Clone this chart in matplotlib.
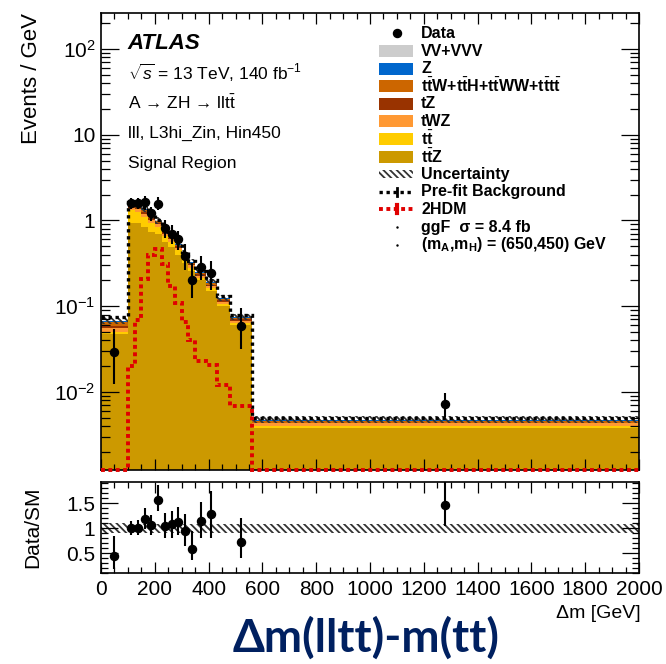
import numpy as np
import matplotlib
matplotlib.use("Agg")
import matplotlib.pyplot as plt
from matplotlib.patches import Rectangle
from matplotlib.lines import Line2D
from matplotlib.ticker import (MultipleLocator, FixedLocator, FuncFormatter,
                               LogLocator, NullFormatter)

plt.rcParams["font.family"] = ["Liberation Sans", "DejaVu Sans"]
plt.rcParams["mathtext.fontset"] = "custom"
plt.rcParams["mathtext.rm"] = "Liberation Sans"
plt.rcParams["mathtext.it"] = "Liberation Sans:italic"
plt.rcParams["mathtext.bf"] = "Liberation Sans:bold"
plt.rcParams["hatch.linewidth"] = 1.3

# binning in GeV
edges = [0, 100, 125, 150, 175, 200, 225, 250, 275, 300, 325, 350, 390, 430, 480, 560, 2000]

# background components (Events / GeV), stacked bottom -> top
ttz  = [0.048, 0.93, 0.93, 0.84, 0.74, 0.70, 0.56, 0.49, 0.40, 0.32, 0.26, 0.20, 0.152, 0.100, 0.060, 0.0038]
tt   = [0.002, 0.38, 0.33, 0.27, 0.19, 0.15, 0.09, 0.07, 0.05, 0.035, 0.02, 0.015, 0.010, 0.006, 0.004, 0.0002]
twz  = [0.005, 0.09, 0.09, 0.08, 0.08, 0.06, 0.05, 0.04, 0.03, 0.025, 0.02, 0.013, 0.010, 0.007, 0.004, 0.0003]
tz   = [0.004, 0.06, 0.06, 0.06, 0.05, 0.03, 0.025, 0.02, 0.018, 0.014, 0.01, 0.008, 0.006, 0.004, 0.002, 0.0001]
ttw  = [0.006, 0.08, 0.08, 0.08, 0.06, 0.04, 0.03, 0.025, 0.022, 0.017, 0.013, 0.01, 0.008, 0.005, 0.003, 0.0002]
zjet = [0.002, 0.04, 0.04, 0.03, 0.015, 0.015, 0.012, 0.01, 0.008, 0.006, 0.005, 0.003, 0.003, 0.002, 0.001, 0.0001]
vv   = [0.001, 0.02, 0.02, 0.02, 0.01, 0.005, 0.005, 0.005, 0.004, 0.003, 0.002, 0.001, 0.001, 0.001, 0.001, 0.00005]
unc_rel = [0.10, 0.09, 0.09, 0.09, 0.09, 0.09, 0.09, 0.09, 0.09, 0.09, 0.09, 0.09, 0.09, 0.09, 0.09, 0.09]

prefit = [0.074, 1.66, 1.60, 1.42, 1.18, 1.02, 0.80, 0.68, 0.55, 0.43, 0.34, 0.26, 0.20, 0.13, 0.079, 0.0050]
signal = [0.0, 0.020, 0.069, 0.21, 0.40, 0.46, 0.31, 0.17, 0.109, 0.065, 0.040, 0.0227, 0.0207, 0.0121, 0.0068, 0.0]

data = [0.029, 1.60, 1.60, 1.62, 1.22, 1.57, 0.81, 0.70, 0.60, 0.39, 0.20, 0.29, 0.245, np.nan, 0.058, 0.0072]
ratio = [0.45, 1.01, 1.01, 1.19, 1.07, 1.57, 1.05, 1.08, 1.13, 0.95, 0.59, 1.15, 1.28, np.nan, 0.73, 1.47]
ratio_lo = [0.26, 0.14, 0.15, 0.21, 0.20, 0.23, 0.25, 0.27, 0.27, 0.30, 0.22, 0.35, 0.48, np.nan, 0.33, 0.42]
ratio_hi = [0.40, 0.14, 0.15, 0.21, 0.20, 0.29, 0.25, 0.27, 0.30, 0.33, 0.35, 0.37, 0.47, np.nan, 0.48, 0.50]

TB = "t$\\bar{\\mathbf{t}}$"
components = [
    (TB + "Z", ttz, "#CC9900"),
    (TB, tt, "#FFCC00"),
    ("tWZ", twz, "#FF9933"),
    ("tZ", tz, "#993300"),
    (TB + "W+" + TB + "H+" + TB + "WW+" + TB + "t$\\bar{\\mathbf{t}}$", ttw, "#CC6600"),
    ("Z", zjet, "#0066CC"),
    ("VV+VVV", vv, "#CCCCCC"),
]

YMIN, YMAX = 1.23e-3, 263
HATCH = "\\\\\\\\\\"

edges = np.array(edges)
centers = 0.5 * (edges[1:] + edges[:-1])

fig = plt.figure(figsize=(6.66, 6.64), dpi=100)
ax = fig.add_axes([0.1517, 0.2922, 0.8078, 0.6883])
axr = fig.add_axes([0.1517, 0.1370, 0.8078, 0.1370], sharex=ax)

# stack
bottom = np.full(len(centers), 1e-6)
for name, vals, col in components:
    top = bottom + np.array(vals)
    ax.stairs(top, edges, baseline=bottom, fill=True, color=col, lw=0)
    bottom = top
total = bottom

unc = total * np.array(unc_rel)
ax.stairs(total + unc, edges, baseline=total - unc, fill=True,
          facecolor="none", edgecolor="#333333", hatch=HATCH, lw=0)

ax.stairs(prefit, edges, baseline=None, color="black", lw=2.4,
          linestyle=(0, (1, 1.1)), zorder=4)
sig = np.maximum(np.array(signal), YMIN)
ax.stairs(sig, edges, baseline=None, color="#E00000", lw=2.8,
          linestyle=(0, (1, 0.9)), zorder=5, clip_on=False)

data = np.array(data)
ratio = np.array(ratio)
d_lo = data * np.array(ratio_lo) / ratio
d_hi = data * np.array(ratio_hi) / ratio
ax.errorbar(centers, data, yerr=[d_lo, d_hi], fmt="o", color="black",
            ms=5.8, elinewidth=1.5, capsize=0, zorder=6)

ax.set_yscale("log")
ax.set_ylim(YMIN, YMAX)
ax.set_xlim(0, 2000)


def log_fmt(v, pos):
    e = int(round(np.log10(v)))
    if e == 0:
        return "1"
    if e == 1:
        return "10"
    return r"$10^{%d}$" % e


ax.yaxis.set_major_locator(LogLocator(base=10, numticks=12))
ax.yaxis.set_minor_locator(LogLocator(base=10, subs=np.arange(2, 10), numticks=12))
ax.yaxis.set_major_formatter(FuncFormatter(log_fmt))
ax.yaxis.set_minor_formatter(NullFormatter())
ax.xaxis.set_major_locator(MultipleLocator(200))
ax.xaxis.set_minor_locator(MultipleLocator(50))
ax.tick_params(axis="both", which="both", direction="in", top=True, right=True,
               labelsize=15, width=0.9)
ax.tick_params(axis="x", which="major", length=8, labelbottom=False)
ax.tick_params(axis="x", which="minor", length=4)
ax.tick_params(axis="y", which="major", length=13, pad=4)
ax.tick_params(axis="y", which="minor", length=6.5)
ax.set_ylabel("Events / GeV", fontsize=16, loc="top")
ax.yaxis.set_label_coords(-0.11, 1.0)

# labels top-left
ax.text(0.050, 0.934, "ATLAS", transform=ax.transAxes, fontsize=16,
        fontweight="bold", fontstyle="italic", va="center")
info = [
    r"$\sqrt{s}$ = 13 TeV, 140 fb$^{-1}$",
    r"A → ZH → llt$\bar{\rm t}$",
    "lll, L3hi_Zin, Hin450",
    "Signal Region",
]
for i, line in enumerate(info):
    ax.text(0.050, 0.869 - i * 0.066, line, transform=ax.transAxes,
            fontsize=12.5, va="center")


# legend, placed in pixel units of the original
def fx(px):
    return (px - 101) / 538.0


def fy(py):
    return (470 - py) / 457.0


rows = ["Data"] + [c[0] for c in components[::-1]] + [
    "Uncertainty", "Pre-fit Background", "2HDM",
    "ggF  σ = 8.4 fb",
    "(m$_{\\mathbf{A}}$,m$_{\\mathbf{H}}$) = (650,450) GeV"]
colors = {name: col for name, _, col in components}
for i, lab in enumerate(rows):
    py = 33.5 + 17.6 * i
    y = fy(py)
    if lab == "Data":
        ax.plot([fx(397)], [y], "o", color="black", ms=5.8,
                transform=ax.transAxes, clip_on=False)
    elif lab in colors:
        ax.add_patch(Rectangle((fx(379), fy(py + 6)), fx(413) - fx(379),
                               12 / 457.0, transform=ax.transAxes,
                               facecolor=colors[lab], lw=0))
    elif lab == "Uncertainty":
        ax.add_patch(Rectangle((fx(379), fy(py + 4)), fx(413) - fx(379),
                               8 / 457.0, transform=ax.transAxes,
                               facecolor="none", edgecolor="#333333",
                               hatch=HATCH, lw=0))
    elif lab == "Pre-fit Background":
        ax.add_line(Line2D([fx(379), fx(413)], [y, y], color="black", lw=2.4,
                           linestyle=(0, (1, 1.1)), transform=ax.transAxes))
        ax.add_line(Line2D([fx(397), fx(397)], [fy(py + 4), fy(py - 4)],
                           color="black", lw=2, transform=ax.transAxes))
    elif lab == "2HDM":
        ax.add_line(Line2D([fx(379), fx(413)], [y, y], color="#E00000", lw=2.8,
                           linestyle=(0, (1, 0.9)), transform=ax.transAxes))
        ax.add_line(Line2D([fx(397), fx(397)], [fy(py + 4), fy(py - 4)],
                           color="#E00000", lw=3, transform=ax.transAxes))
    else:
        ax.plot([fx(397)], [y], ".", color="black", ms=1.5,
                transform=ax.transAxes)
    ax.text(fx(421), y, lab, transform=ax.transAxes, fontsize=11.5,
            fontweight="bold", va="center")

# ratio panel
band_lo = 1 - np.array(unc_rel)
band_hi = 1 + np.array(unc_rel)
axr.stairs(band_hi, edges, baseline=band_lo, fill=True, facecolor="none",
           edgecolor="#333333", hatch=HATCH, lw=0)
axr.errorbar(centers, ratio, yerr=[ratio_lo, ratio_hi], fmt="o", color="black",
             ms=5.8, elinewidth=1.5, capsize=0, zorder=6)
axr.set_ylim(0.1, 1.92)
axr.set_xlim(0, 2000)
axr.yaxis.set_major_locator(FixedLocator([0.5, 1.0, 1.5]))
axr.yaxis.set_minor_locator(MultipleLocator(0.1))
axr.yaxis.set_major_formatter(FuncFormatter(lambda v, p: "%g" % v))
axr.xaxis.set_major_formatter(FuncFormatter(lambda v, p: "%d" % v))
axr.tick_params(axis="both", which="both", direction="in", top=True, right=True,
                labelsize=15, width=0.9)
axr.tick_params(axis="x", which="major", length=8, pad=5)
axr.tick_params(axis="x", which="minor", length=4)
axr.tick_params(axis="y", which="major", length=12, pad=4)
axr.tick_params(axis="y", which="minor", length=5)
axr.set_ylabel("Data/SM", fontsize=15)
axr.yaxis.set_label_coords(-0.11, 0.5)

for a in (ax, axr):
    for s in a.spines.values():
        s.set_linewidth(1.2)

fig.text(641 / 666, 1 - 613 / 664, "Δm [GeV]", fontsize=14, ha="right",
         va="center")
fig.text(0.549, 1 - 638 / 664, "Δm(lltt)-m(tt)", fontsize=33,
         fontweight="bold", color="#002060", ha="center", va="center",
         family=["Lato", "DejaVu Sans"])

fig.savefig("out.png", dpi=100)
